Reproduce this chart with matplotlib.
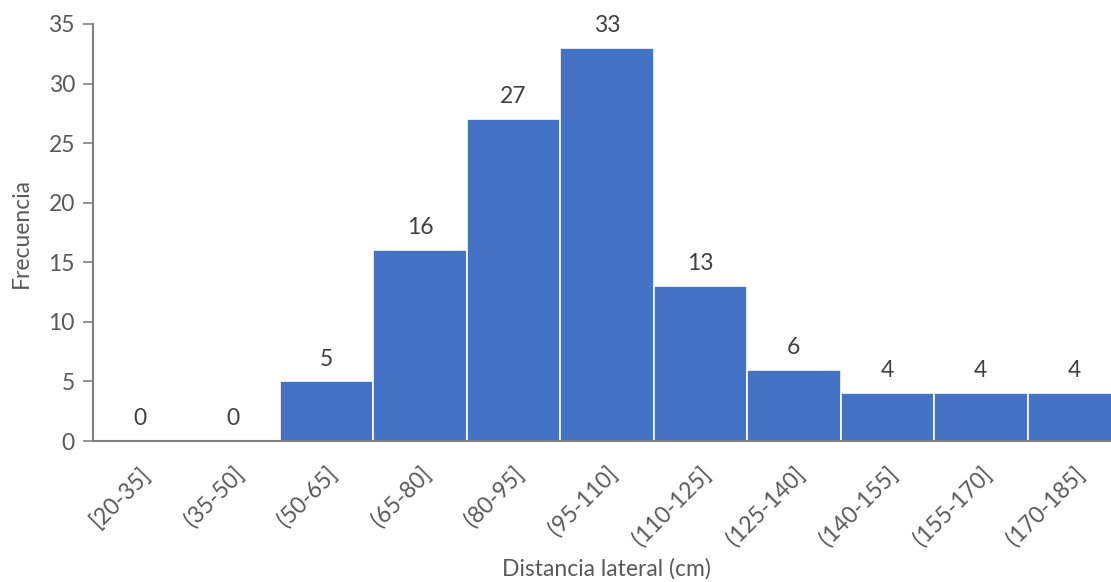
import matplotlib.pyplot as plt

# Frequency of lateral distance by class interval (cm)
intervals = ['[20-35]', '(35-50]', '(50-65]', '(65-80]', '(80-95]', '(95-110]',
             '(110-125]', '(125-140]', '(140-155]', '(155-170]', '(170-185]']
counts = [0, 0, 5, 16, 27, 33, 13, 6, 4, 4, 4]

plt.rcParams['font.family'] = ['Lato', 'DejaVu Sans']
fs = 16.5

fig = plt.figure(figsize=(11.11, 5.82), dpi=100)
ax = fig.add_axes([93 / 1111, 141 / 582, 1028 / 1111, 417 / 582])

x = range(len(counts))
bars = ax.bar(x, counts, width=1.0, color='#4472C4', edgecolor='white', linewidth=1.2)

for xi, c in zip(x, counts):
    ax.text(xi, c + 1.0, str(c), ha='center', va='bottom', fontsize=fs, color='#404040')

ax.set_xlim(-0.5, len(counts) - 0.5)
ax.set_ylim(0, 35)
ax.set_yticks(range(0, 36, 5))
ax.set_xticks(list(x))
ax.set_xticklabels(intervals, rotation=45, ha='right', rotation_mode='anchor')

ax.tick_params(axis='y', labelsize=fs, labelcolor='#595959', color='#808080', length=7, width=1.2, pad=6)
ax.tick_params(axis='x', labelsize=fs, labelcolor='#595959', length=0, pad=16)

for side in ['top', 'right']:
    ax.spines[side].set_visible(False)
for side in ['left', 'bottom']:
    ax.spines[side].set_color('#808080')
    ax.spines[side].set_linewidth(1.5)

ax.set_ylabel('Frecuencia', fontsize=fs, color='#595959')
ax.set_xlabel('Distancia lateral (cm)', fontsize=fs, color='#595959')
ax.yaxis.set_label_coords(-61 / 1028, 0.5)
ax.xaxis.set_label_coords((606 - 93) / 1028, -117 / 417)

fig.savefig('out.png', dpi=100)
